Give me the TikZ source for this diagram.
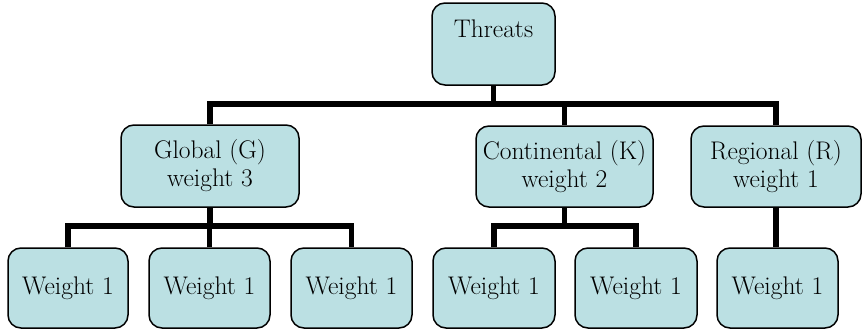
\documentclass[tikz,border=0pt]{standalone}
\definecolor{boxfill}{RGB}{187,224,227}
\tikzset{
  tbox/.style={draw=black, line width=1.5pt, rounded corners=13pt, fill=boxfill,
    inner sep=0pt, align=center, font=\rmfamily\fontsize{25.5}{28}\selectfont},
  conn/.style={draw=black, line width=5.5pt, line join=miter},
}
\begin{document}
\begin{tikzpicture}[x=1pt,y=-1pt]
\useasboundingbox (0,0) rectangle (862,332);
\coordinate (bar) at (0,104);
\coordinate (gbar) at (0,226);
% boxes
\node[tbox, minimum width=123pt, minimum height=82pt] (thr) at (493.5,44) {Threats\\[2pt]~};
\node[tbox, minimum width=178pt, minimum height=82pt] (glob) at (210,166) {Global (G)\\weight 3};
\node[tbox, minimum width=177pt, minimum height=81pt] (cont) at (564.5,166.5) {Continental (K)\\weight 2};
\node[tbox, minimum width=170pt, minimum height=81pt] (reg) at (776,166.5) {Regional (R)\\weight 1};
\node[tbox, minimum width=120pt, minimum height=80pt] (w1) at (68,288) {Weight 1};
\node[tbox, minimum width=121pt, minimum height=80pt] (w2) at (209.5,288) {Weight 1};
\node[tbox, minimum width=121pt, minimum height=80pt] (w3) at (351.5,288) {Weight 1};
\node[tbox, minimum width=122pt, minimum height=80pt] (w4) at (494,288) {Weight 1};
\node[tbox, minimum width=122pt, minimum height=80pt] (w5) at (636,288) {Weight 1};
\node[tbox, minimum width=121pt, minimum height=80pt] (w6) at (777.5,288) {Weight 1};
% connectors
\draw[conn] (thr.south) -- (thr.south |- bar);
\draw[conn] (glob.north) |- (reg.north |- bar) -- (reg.north);
\draw[conn] (cont.north) -- (cont.north |- bar);
\draw[conn] (glob.south) -- (glob.south |- gbar);
\draw[conn] (w1.north) |- (w3.north |- gbar) -- (w3.north);
\draw[conn] (w2.north) -- (w2.north |- gbar);
\draw[conn] (cont.south) -- (cont.south |- gbar);
\draw[conn] (w4.north) |- (w5.north |- gbar) -- (w5.north);
\draw[conn] (reg.south) -- (reg.south |- w6.north);
\end{tikzpicture}
\end{document}
